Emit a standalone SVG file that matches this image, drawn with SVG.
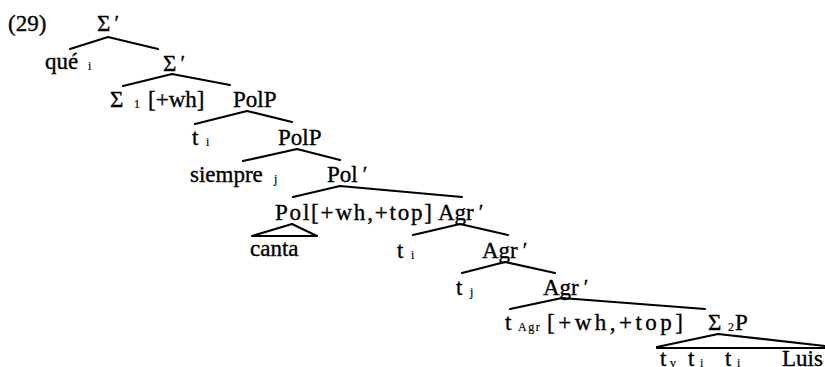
<svg xmlns="http://www.w3.org/2000/svg" width="825" height="367" viewBox="0 0 825 367">
<style>
text{font-family:"Liberation Serif","Times New Roman",serif;font-size:23px;fill:#000;stroke:#000;stroke-width:0.35}
.s{font-size:12px;stroke-width:0.2}
.p{font-size:21px}
.e line,.e polyline,.e polygon{stroke:#000;stroke-width:2.2;fill:none;stroke-linecap:round;stroke-linejoin:round}
</style>
<rect width="825" height="367" fill="#fff"/>
<g id="label29"><text x="8" y="31">(29)</text></g>
<g id="n0"><text x="97" y="31">Σ<tspan class="p" dx="4" dy="-1">′</tspan></text></g>
<g id="n1"><text x="45" y="69">qué</text><text class="s" x="88" y="70">i</text></g>
<g id="n2"><text x="163" y="71">Σ<tspan class="p" dx="4" dy="-1">′</tspan></text></g>
<g id="n3"><text x="110" y="107">Σ</text><text class="s" x="134" y="108">1</text><text x="148" y="107">[+wh]</text></g>
<g id="n4"><text x="233" y="107">PolP</text></g>
<g id="n5"><text x="192" y="145">t</text><text class="s" x="206" y="146">i</text></g>
<g id="n6"><text x="278" y="145">PolP</text></g>
<g id="n7"><text x="190" y="182">siempre</text><text class="s" x="274" y="183">j</text></g>
<g id="n8"><text x="327" y="182">Pol<tspan class="p" dx="5" dy="-1">′</tspan></text></g>
<g id="n9"><text x="275" y="220" textLength="157" lengthAdjust="spacing">Pol[+wh,+top]</text></g>
<g id="n10"><text x="250" y="256">canta</text></g>
<g id="n11"><text x="438" y="220">Agr<tspan class="p" dx="5" dy="-1">′</tspan></text></g>
<g id="n12"><text x="397" y="258">t</text><text class="s" x="411" y="259">i</text></g>
<g id="n13"><text x="482" y="258">Agr<tspan class="p" dx="5" dy="-1">′</tspan></text></g>
<g id="n14"><text x="456" y="295">t</text><text class="s" x="470" y="296">j</text></g>
<g id="n15"><text x="543" y="295">Agr<tspan class="p" dx="5" dy="-1">′</tspan></text></g>
<g id="n16"><text x="505" y="330">t</text><text class="s" x="518" y="331" letter-spacing="1.5">Agr</text><text x="547" y="330" textLength="136" lengthAdjust="spacing">[+wh,+top]</text></g>
<g id="n17"><text x="708" y="330">Σ</text><text class="s" x="728" y="331">2</text><text x="735" y="330">P</text></g>
<g id="n18"><text x="660" y="366">t</text><text class="s" x="670" y="367">v</text><text x="688" y="366">t</text><text class="s" x="700" y="367">i</text><text x="725" y="366">t</text><text class="s" x="737" y="367">i</text><text x="782" y="366">Luis</text></g>
<g id="connectors" class="e">
<polyline points="70,49 108,37 158,49"/>
<polyline points="123,86 172,74 230,85"/>
<polyline points="195,124 247,111 292,122"/>
<polyline points="243,161 297,149 340,160"/>
<polyline points="293,197 340,186 462,197"/>
<polygon points="252,236 292,224 317,236" stroke-width="2.6"/>
<polyline points="413,235 460,224 508,235"/>
<polyline points="462,273 505,262 555,273"/>
<polyline points="510,309 562,298 705,309"/>
<polyline points="657,347 718,334 825,346"/>
<line x1="657" y1="348" x2="825" y2="348" stroke-width="2.6"/>
</g>
</svg>
